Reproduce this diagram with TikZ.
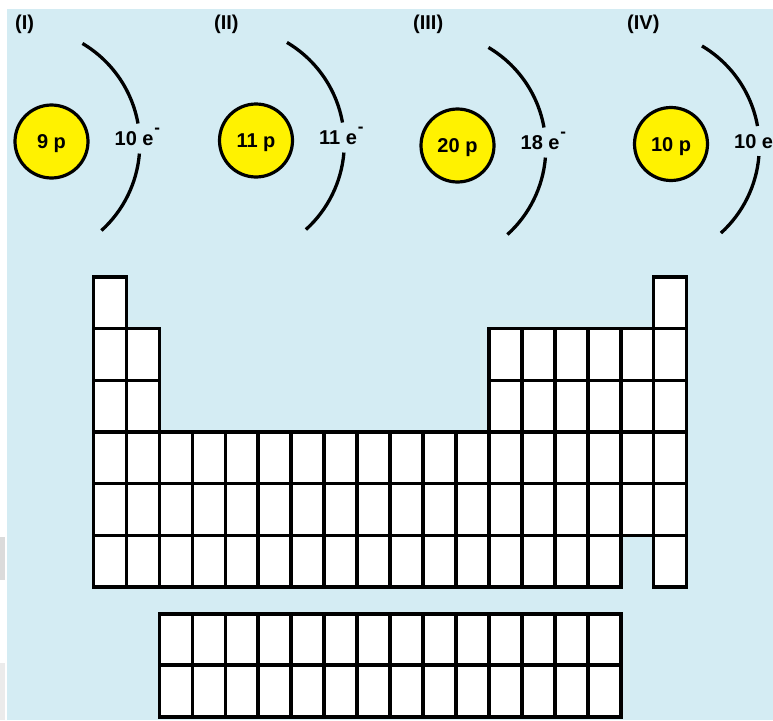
\documentclass[tikz,border=0pt]{standalone}
\usepackage{fontspec}
\setmainfont{Liberation Sans}
\usetikzlibrary{calc}
\definecolor{skyback}{RGB}{212,236,243}
\definecolor{nucleusyellow}{RGB}{255,242,0}

% #1 name, #2 x, #3 depth below top edge, #4 nucleus text, #5 shell text
\newcommand{\atomsketch}[5]{%
  \node[nucleus] (#1) at (#2,-#3) {#4};
  \draw[shell] ($(#1)+(-28.5,-2.5)+(59.4:116.8)$)
      arc[start angle=59.4, end angle=10.1, radius=116.8];
  \draw[shell] ($(#1)+(-28.5,-2.5)+(-4.7:116.8)$)
      arc[start angle=-4.7, end angle=-47.8, radius=116.8];
  \node[lbl] (#1-e) at ($(#1)+(63,-4)$) {#5};
}
\newcommand{\elec}{\kern0.8pt\raisebox{12.5pt}{\fontsize{17}{17}\selectfont -}}

\begin{document}
\begin{tikzpicture}[x=1pt,y=1pt,
  lbl/.style={font=\fontsize{20}{24}\selectfont\bfseries, inner sep=0pt, anchor=base west},
  nucleus/.style={circle, draw=black, line width=3.2pt, fill=nucleusyellow,
    minimum size=73pt, inner sep=0pt, text height=14.4pt, text depth=0pt,
    font=\fontsize{20}{24}\selectfont\bfseries},
  shell/.style={line width=3.3pt, line cap=butt},
  cellbox/.style={draw=black, fill=white, line width=3.6pt}]
\useasboundingbox (0,0) rectangle (773,-720);
\fill[white] (0,0) rectangle (773,-720);
\fill[skyback] (7.3,-9.3) rectangle (773,-720);
% faint marks along the left margin
\fill[black!14] (0,-537) rectangle (5,-580);
\fill[black!8] (0,-663) rectangle (5,-720);

% four atoms
\node[lbl] (l1) at (15,-29) {(I)};
\node[lbl] (l2) at (214,-29) {(II)};
\node[lbl] (l3) at (413,-29) {(III)};
\node[lbl] (l4) at (627,-29) {(IV)};
\atomsketch{a1}{51.5}{141.5}{9 p}{10 e\elec}
\atomsketch{a2}{256}{140.5}{11 p}{11 e\elec}
\atomsketch{a3}{457.5}{145.5}{20 p}{18 e\elec}
\atomsketch{a4}{671}{144}{10 p}{10 e\elec}

% main block of the periodic table
\foreach \r/\cols in {1/{1,18}, 2/{1,2,13,14,15,16,17,18}, 3/{1,2,13,14,15,16,17,18},
    4/{1,...,18}, 5/{1,...,18}, 6/{1,...,16,18}} {
  \foreach \c in \cols {
    \draw[cellbox] ({93.5+32.95*(\c-1)},{-277-51.67*(\r-1)}) rectangle ++(32.95,-51.67);
  }
}
% f-block
\foreach \c in {0,...,13} {
  \foreach \r in {0,1} {
    \draw[cellbox] ({159.4+32.95*\c},{-613.7-51.5*\r}) rectangle ++(32.95,-51.5);
  }
}
\end{tikzpicture}
\end{document}
